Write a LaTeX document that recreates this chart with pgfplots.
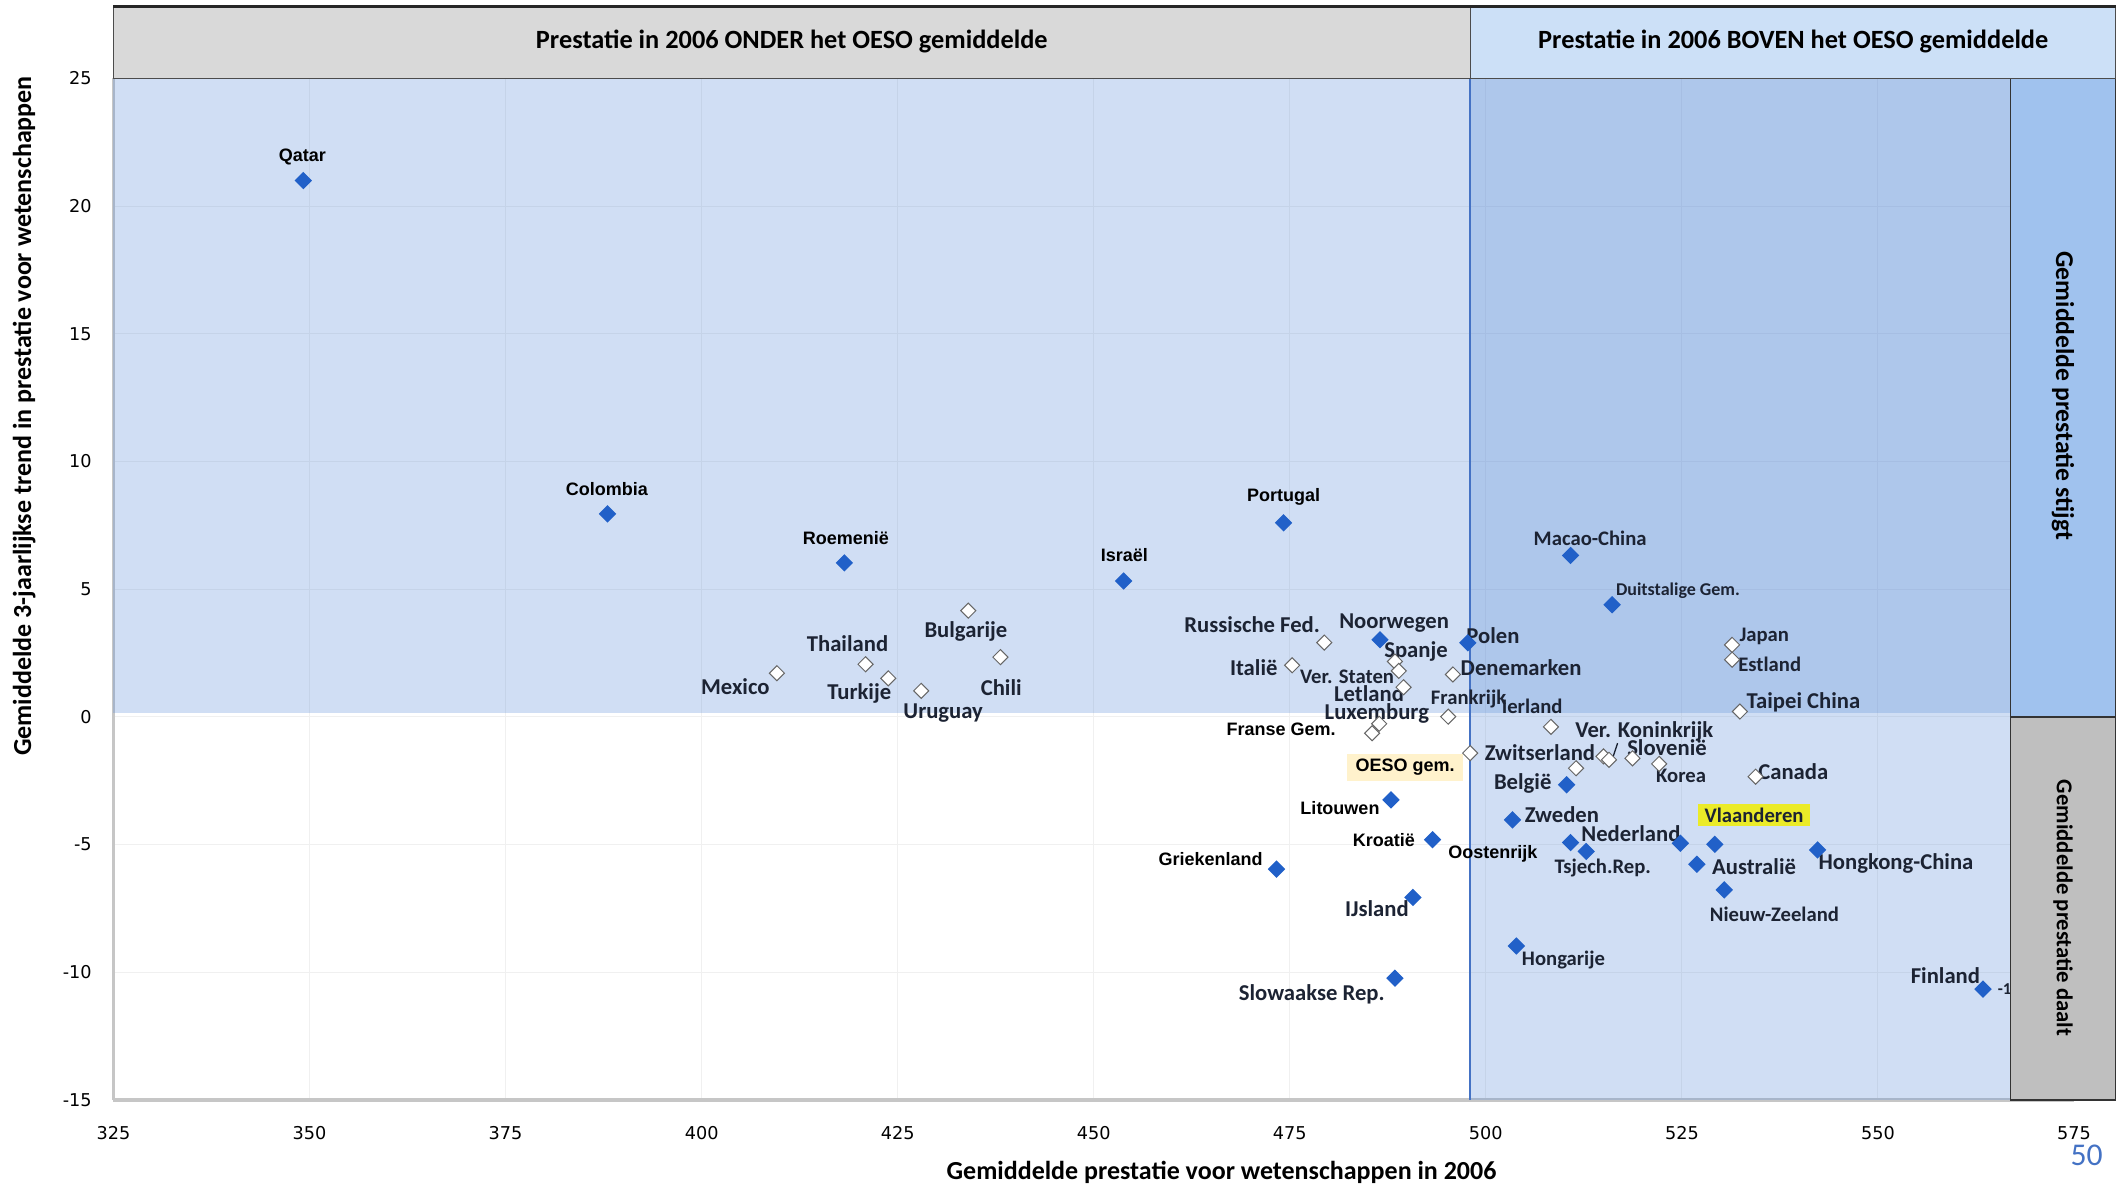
\documentclass[border=0pt]{standalone}
\usepackage{pgfplots}
\pgfplotsset{compat=1.18}
\usepackage{fontspec}
\setmainfont{Carlito}
\newfontfamily\arialf{Liberation Sans}
\newfontfamily\dvf{DejaVu Sans}
\definecolor{mblue}{RGB}{33,96,200}
\definecolor{hatch}{RGB}{90,140,215}
\definecolor{hdrgray}{RGB}{217,217,217}
\definecolor{hdrblue}{RGB}{204,224,247}
\definecolor{sideblue}{RGB}{160,194,238}
\definecolor{sidegray}{RGB}{191,191,191}
\definecolor{lblc}{RGB}{28,35,51}
\definecolor{oesobg}{RGB}{255,242,204}
\definecolor{vlbg}{RGB}{235,235,40}
\definecolor{linecol}{RGB}{68,114,196}

\pgfplotstableread{
x y
349.2 21.0
388.0 7.95
418.2 6.03
453.8 5.32
474.2 7.60
486.5 3.02
497.7 2.90
510.8 6.32
516.1 4.39
487.9 -3.25
493.2 -4.81
473.3 -5.96
490.7 -7.07
488.4 -10.23
510.3 -2.66
503.4 -4.03
510.8 -4.92
512.8 -5.27
524.8 -4.95
529.2 -4.99
526.9 -5.77
530.4 -6.77
542.3 -5.21
503.9 -8.97
563.4 -10.66
}\sigdata

\pgfplotstableread{
x y
409.6 1.71
420.9 2.06
423.8 1.51
428.0 1.02
434.0 4.16
438.1 2.34
479.4 2.91
475.3 2.02
488.4 2.17
488.9 1.80
489.5 1.16
495.8 1.66
495.2 0.01
486.4 -0.27
485.5 -0.64
498.0 -1.42
508.3 -0.39
515.0 -1.55
515.7 -1.68
518.7 -1.62
522.1 -1.84
511.5 -2.01
531.4 2.82
531.4 2.24
532.4 0.21
534.4 -2.34
}\nsdata

\begin{document}
\begin{tikzpicture}[
 big/.style={font=\bfseries\fontsize{6.8}{7}\selectfont,text=lblc,inner sep=0.5pt},
 sm/.style={font=\bfseries\fontsize{6.2}{7}\selectfont,text=lblc,inner sep=0.5pt},
 ar/.style={font=\arialf\bfseries\fontsize{5.4}{6}\selectfont,text=black,inner sep=0.5pt}]
\useasboundingbox (-34.05pt,-27.6pt) rectangle (601.65pt,330pt);
\begin{axis}[
  scale only axis, width=588.15pt, height=306.48pt,
  xmin=325, xmax=575, ymin=-15, ymax=25,
  xtick distance=25, ytick distance=5,
  clip=false,
  axis x line*=bottom, axis y line*=left,
  axis line style={gray!45, line width=1pt, -},
  major tick length=0pt,
  grid=major, grid style={gray!12, line width=0.3pt},
  ticklabel style={font=\dvf\fontsize{5.3}{6}\selectfont},
  /pgf/number format/assume math mode=true,
  xticklabel style={yshift=-4.5pt},
  yticklabel style={xshift=-3pt},
]
% shaded regions
\fill[hatch, fill opacity=0.285] (axis cs:325,0.15) rectangle (axis cs:567,25);
\fill[hatch, fill opacity=0.285] (axis cs:498,-15) rectangle (axis cs:567,25);
\draw[linecol, line width=0.6pt] (axis cs:498,-15) -- (axis cs:498,25);

% data
\addplot[only marks, mark=square*, mark size=1.65pt, color=mblue,
  every mark/.append style={rotate=45}] table {\sigdata};
\addplot[only marks, mark=square*, mark size=1.6pt, draw=gray!80!black, fill=white,
  every mark/.append style={rotate=45, line width=0.3pt}] table {\nsdata};

% labels
\node[ar] at (axis cs:349.1,21.93) {Qatar};
\node[ar] at (axis cs:387.9,8.92) {Colombia};
\node[ar] at (axis cs:418.4,7.01) {Roemenië};
\node[ar] at (axis cs:453.9,6.32) {Israël};
\node[ar] at (axis cs:474.2,8.60) {Portugal};
\node[big] at (axis cs:404.3,1.19) {Mexico};
\node[big] at (axis cs:418.6,2.88) {Thailand};
\node[big] at (axis cs:420.1,0.93) {Turkije};
\node[big] at (axis cs:430.8,0.13) {Uruguay};
\node[big] at (axis cs:433.7,3.36) {Bulgarije};
\node[big] at (axis cs:438.2,1.14) {Chili};
\node[big] at (axis cs:470.2,3.62) {Russische Fed.};
\node[big] at (axis cs:488.3,3.68) {Noorwegen};
\node[big] at (axis cs:500.9,3.20) {Polen};
\node[big] at (axis cs:491.1,2.57) {Spanje};
\node[big] at (axis cs:470.4,1.93) {Italië};
\node[sm] at (axis cs:482.3,1.56) {Ver. Staten};
\node[big] at (axis cs:504.5,1.93) {Denemarken};
\node[big] at (axis cs:485.1,0.92) {Letland};
\node[sm] at (axis cs:497.8,0.71) {Frankrijk};
\node[big] at (axis cs:486.1,0.12) {Luxemburg};
\node[sm] at (axis cs:505.9,0.40) {Ierland};
\node[ar] at (axis cs:473.9,-0.50) {Franse Gem.};
\node[big] at (axis cs:520.2,-0.56) {Ver. Koninkrijk};
\draw[lblc, line width=0.4pt] (axis cs:516.1,-1.67) -- (axis cs:516.8,-1.03);
\node[big] at (axis cs:506.9,-1.40) {Zwitserland};
\node[big] at (axis cs:523.1,-1.19) {Slovenië};
\node[ar, fill=oesobg, inner xsep=2.5pt, inner ysep=1.6pt] at (axis cs:489.7,-1.98) {OESO gem.};
\node[sm] at (axis cs:524.9,-2.30) {Korea};
\node[big] at (axis cs:539.2,-2.14) {Canada};
\node[big] at (axis cs:504.7,-2.62) {België};
\node[ar] at (axis cs:481.4,-3.57) {Litouwen};
\node[big] at (axis cs:509.7,-3.84) {Zweden};
\node[sm, fill=vlbg, inner xsep=2pt, inner ysep=1.2pt] at (axis cs:534.2,-3.84) {Vlaanderen};
\node[big] at (axis cs:518.5,-4.58) {Nederland};
\node[ar] at (axis cs:487.0,-4.84) {Kroatië};
\node[ar] at (axis cs:500.9,-5.37) {Oostenrijk};
\node[ar] at (axis cs:464.9,-5.58) {Griekenland};
\node[sm] at (axis cs:514.9,-5.90) {Tsjech.Rep.};
\node[big] at (axis cs:534.2,-5.85) {Australië};
\node[big] at (axis cs:552.3,-5.74) {Hongkong-China};
\node[big] at (axis cs:486.1,-7.49) {IJsland};
\node[sm] at (axis cs:536.8,-7.75) {Nieuw-Zeeland};
\node[sm] at (axis cs:509.9,-9.50) {Hongarije};
\node[big] at (axis cs:558.6,-10.13) {Finland};
\node[big] at (axis cs:477.8,-10.87) {Slowaakse Rep.};
\node[sm] at (axis cs:513.3,7.01) {Macao-China};
\node[sm, font=\bfseries\fontsize{5.4}{6}\selectfont] at (axis cs:524.5,4.95) {Duitstalige Gem.};
\node[sm] at (axis cs:535.5,3.15) {Japan};
\node[sm] at (axis cs:536.2,2.04) {Estland};
\node[big] at (axis cs:540.5,0.56) {Taipei China};
\node[anchor=west, inner sep=0pt, font=\bfseries\fontsize{5}{6}\selectfont, text=lblc] at (axis cs:565.2,-10.66) {-1};

% side boxes
\draw[fill=sideblue, draw=black!80, line width=0.5pt] (axis cs:566.9,0) rectangle (axis cs:580.3,25);
\draw[fill=sidegray, draw=black!80, line width=0.5pt] (axis cs:566.9,-15) rectangle (axis cs:580.3,0);
\node[rotate=-90, font=\bfseries\fontsize{7.7}{9}\selectfont] at (axis cs:573.6,12.57) {Gemiddelde prestatie stijgt};
\node[rotate=-90, font=\bfseries\fontsize{6.8}{8}\selectfont] at (axis cs:573.6,-7.49) {Gemiddelde prestatie daalt};

% header boxes
\draw[fill=hdrgray, draw=black!70, line width=0.4pt] (axis cs:325,25) rectangle (axis cs:498,27.81);
\draw[fill=hdrblue, draw=black!70, line width=0.4pt] (axis cs:498,25) rectangle (axis cs:580.3,27.81);
\draw[black!85, line width=0.8pt] (axis cs:325,27.81) -- (axis cs:580.3,27.81);
\node[font=\bfseries\fontsize{7.9}{9}\selectfont] at (axis cs:411.5,26.43) {Prestatie in 2006 ONDER het OESO gemiddelde};
\node[font=\bfseries\fontsize{7.9}{9}\selectfont] at (axis cs:539.2,26.43) {Prestatie in 2006 BOVEN het OESO gemiddelde};

% axis titles
\node[rotate=90, font=\bfseries\fontsize{7.8}{9}\selectfont] at (axis cs:313.6,11.78) {Gemiddelde 3-jaarlijkse trend in prestatie voor wetenschappen};
\node[font=\bfseries\fontsize{7.8}{9}\selectfont] at (axis cs:466.3,-17.85) {Gemiddelde prestatie voor wetenschappen in 2006};
\node[font=\fontsize{9.5}{10}\selectfont, text=linecol] at (axis cs:576.6,-17.15) {50};
\end{axis}
\end{tikzpicture}
\end{document}
